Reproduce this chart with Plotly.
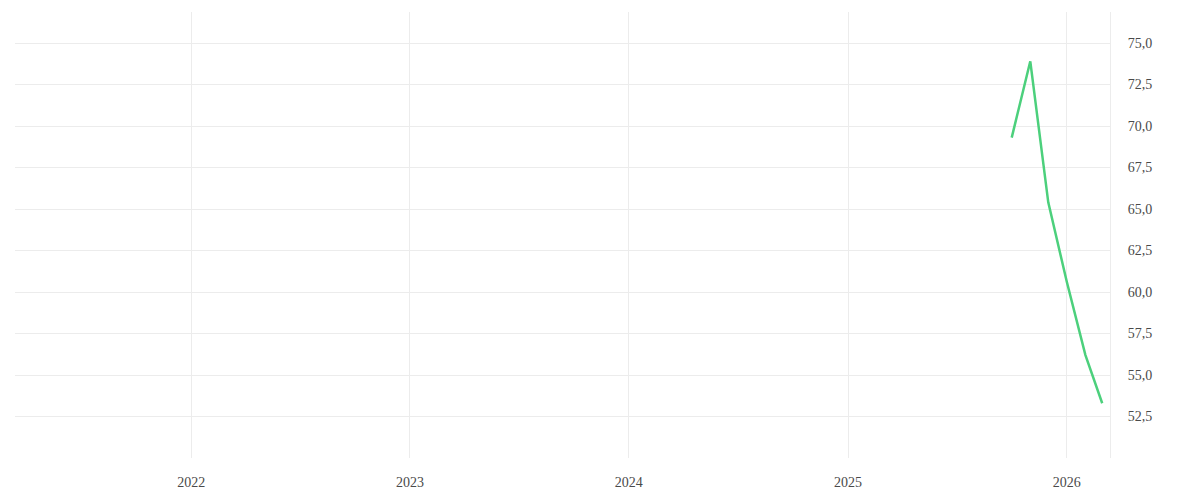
import plotly.graph_objects as go

# monthly readings
months = ["2025-10-01", "2025-11-01", "2025-12-01", "2026-01-01", "2026-02-01", "2026-03-01"]
values = [69.3, 73.9, 65.4, 60.6, 56.2, 53.3]

y_ticks = [50, 52.5, 55, 57.5, 60, 62.5, 65, 67.5, 70, 72.5, 75]
y_labels = [""] + ["%.1f" % v for v in y_ticks[1:]]
y_labels = [s.replace(".", ",") for s in y_labels]

x_ticks = ["2022-01-01", "2023-01-01", "2024-01-01", "2025-01-01", "2026-01-01"]
x_labels = ["2022", "2023", "2024", "2025", "2026"]

grid = "#ececec"

fig = go.Figure()
fig.add_trace(go.Scatter(
    x=months, y=values, mode="lines",
    line=dict(color="#4cd07c", width=2.5),
    hoverinfo="x+y",
))

# page has an 8px body margin, so margins are shifted by that
fig.update_layout(
    width=1200, height=500,
    margin=dict(l=7, r=98, t=4, b=50),
    paper_bgcolor="white", plot_bgcolor="white",
    showlegend=False,
    font=dict(family="Liberation Serif", size=14, color="#4a4a4a"),
)
fig.update_xaxes(
    type="date",
    range=["2021-03-13", "2026-03-14"],
    tickvals=x_ticks, ticktext=x_labels,
    showgrid=True, gridcolor=grid, gridwidth=1,
    zeroline=False, showline=False,
    ticks="outside", ticklen=11, tickcolor="white",
)
fig.update_yaxes(
    side="right",
    range=[50, 76.87],
    tickvals=y_ticks, ticktext=y_labels,
    showgrid=True, gridcolor=grid, gridwidth=1,
    zeroline=False,
    showline=True, linecolor=grid, linewidth=1,
    ticks="outside", ticklen=14, tickcolor="white",
)

fig.write_html("out.html")
